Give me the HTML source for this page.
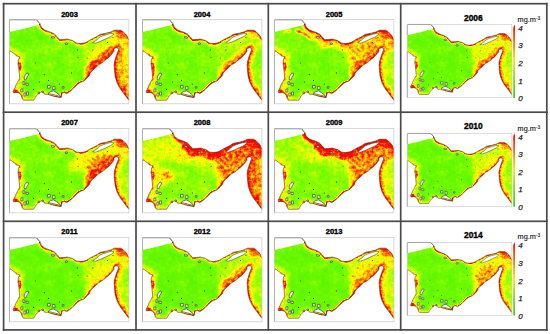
<!DOCTYPE html>
<html><head><meta charset="utf-8"><style>
html,body{margin:0;padding:0;background:#fff;}
body{width:550px;height:334px;position:relative;overflow:hidden;font-family:"Liberation Sans",sans-serif;}
.m{position:absolute;overflow:hidden}
.m .h{mix-blend-mode:lighten}
.t{position:absolute;width:40px;text-align:center;font-weight:bold;color:#000;line-height:1;-webkit-text-stroke:0.35px #000}
.hl{position:absolute;background:#555}
.cb{position:absolute;width:2.3px;background:linear-gradient(to bottom,#ff0000,#ff6600 22%,#ffbb00 40%,#eeee00 50%,#b4e61e 60%,#78dc28 75%,#3cd228);clip-path:polygon(50% 0,100% 5%,100% 100%,0 100%,0 5%)}
.u{position:absolute;font-size:7.3px;color:#222;line-height:1;-webkit-text-stroke:0.15px #222}
.u sup{font-size:4.8px;vertical-align:1.8px}
.l{position:absolute;font-size:8px;font-style:italic;color:#222;line-height:1;-webkit-text-stroke:0.25px #222}
</style></head><body>
<svg width="0" height="0" style="position:absolute">
<defs>
<clipPath id="cw"><path d="M9.8,32.0 L22.5,29.2 L32.0,26.7 L36.0,25.7 L39.6,25.1 L40.5,24.0 L42.0,27.5 L45.0,29.9 L47.5,31.0 L51.1,32.2 L55.0,34.1 L57.6,36.7 L60.2,39.7 L64.0,39.5 L67.9,39.1 L73.0,40.5 L76.9,43.0 L80.7,43.6 L84.6,43.0 L87.0,42.2 L91.0,39.8 L97.0,36.8 L100.6,34.4 L106.6,33.2 L111.3,32.0 L115.0,30.2 L121.0,30.2 L123.3,31.4 L126.3,34.4 L128.1,36.8 L129.7,39.5 L129.7,100.3 L128.9,99.8 L127.2,97.4 L123.6,92.6 L120.0,87.8 L117.4,82.6 L115.6,76.5 L115.0,70.8 L114.6,64.8 L115.0,61.6 L116.6,56.2 L118.2,52.0 L118.9,50.4 L119.1,48.6 L117.2,47.8 L115.5,48.1 L114.4,49.4 L114.6,51.2 L112.8,53.4 L111.0,55.6 L109.2,57.6 L106.9,59.2 L104.2,61.6 L101.5,63.4 L98.9,64.9 L95.3,68.5 L92.6,70.7 L90.8,73.0 L89.9,75.6 L88.1,77.4 L84.5,81.0 L80.5,82.6 L78.0,84.4 L74.5,87.8 L71.7,90.6 L67.3,93.7 L64.7,92.4 L62.7,93.2 L61.6,97.7 L54.8,96.4 L48.2,94.4 L44.9,94.2 L43.6,91.5 L41.6,91.9 L39.6,93.2 L37.6,95.2 L36.4,96.4 L35.6,97.8 L34.2,100.2 L24.0,100.3 L22.7,98.5 L21.7,95.5 L20.2,93.4 L17.6,92.4 L14.1,92.9 L13.6,91.4 L15.6,87.3 L16.6,84.8 L18.1,82.2 L20.2,78.2 L19.7,73.1 L19.2,68.0 L18.5,64.0 L18.8,60.0 L20.2,56.8 L17.0,55.9 L15.0,54.0 L11.9,51.7 L9.8,50.8Z"/></clipPath>
<filter id="bl" filterUnits="userSpaceOnUse" x="0" y="10" width="140" height="100" color-interpolation-filters="sRGB"><feGaussianBlur stdDeviation="1.6"/></filter>
<filter id="bm" filterUnits="userSpaceOnUse" x="0" y="10" width="140" height="100" color-interpolation-filters="sRGB"><feGaussianBlur stdDeviation="1"/></filter>
<filter id="bs" filterUnits="userSpaceOnUse" x="0" y="10" width="140" height="100" color-interpolation-filters="sRGB"><feGaussianBlur stdDeviation="0.6"/></filter>
<filter id="bb" filterUnits="userSpaceOnUse" x="0" y="10" width="140" height="100" color-interpolation-filters="sRGB"><feGaussianBlur stdDeviation="3"/></filter>
<filter id="cm" x="0" y="0" width="100%" height="100%" color-interpolation-filters="sRGB">
<feTurbulence type="fractalNoise" baseFrequency="0.09" numOctaves="2" seed="5" result="nl"/>
<feColorMatrix in="nl" type="matrix" values="1 0 0 0 0  1 0 0 0 0  1 0 0 0 0  0 0 0 0 1" result="gl"/>
<feTurbulence type="fractalNoise" baseFrequency="0.33" numOctaves="2" seed="3" result="nh"/>
<feColorMatrix in="nh" type="matrix" values="1 0 0 0 0  1 0 0 0 0  1 0 0 0 0  0 0 0 0 1" result="gh"/>
<feComposite in="SourceGraphic" in2="gl" operator="arithmetic" k1="0" k2="1" k3="0.24" k4="-0.12" result="s1"/>
<feComposite in="s1" in2="gh" operator="arithmetic" k1="0.9" k2="0.55" k3="0" k4="0" result="s"/>
<feComponentTransfer in="s">
<feFuncR type="table" tableValues="0.33 0.36 0.43 0.57 0.8 1 1 1 1 1 1"/>
<feFuncG type="table" tableValues="0.94 0.96 0.98 1 1 1 0.85 0.6 0.35 0.1 0"/>
<feFuncB type="table" tableValues="0 0 0 0 0 0 0 0 0 0 0"/>
<feFuncA type="table" tableValues="1 1"/>
</feComponentTransfer>
</filter>
<g id="hALL" filter="url(#bl)"><rect x="0" y="0" width="140" height="110" fill="currentColor"/></g><g id="hC" filter="url(#bl)"><ellipse cx="60" cy="62" rx="40" ry="25" fill="currentColor"/></g><g id="hNW" filter="url(#bb)"><ellipse cx="25" cy="40" rx="16" ry="10" fill="currentColor"/></g><g id="hE" filter="url(#bb)"><ellipse cx="95" cy="55" rx="18" ry="14" fill="currentColor"/></g><g id="hNB" filter="url(#bl)"><polyline points="51.1,32.2 55,34.1 57.6,36.7 60.2,39.7 64,39.5 67.9,39.1 73,40.5 76.9,43 80.7,43.6 84.6,43 87,42.2 91,39.8 97,36.8 100.6,34.4 106.6,33.2 111.3,32 115,30.2 121,30.2 123.3,31.4 126.3,34.4 128.1,36.8 129.7,39.5" fill="none" stroke="currentColor" stroke-width="16" stroke-linejoin="round" stroke-linecap="butt"/></g><g id="hNB2" filter="url(#bl)"><polyline points="40.5,24 42,27.5 45,29.9 47.5,31 51.1,32.2 55,34.1" fill="none" stroke="currentColor" stroke-width="7" stroke-linejoin="round" stroke-linecap="butt"/></g><g id="hN" filter="url(#bl)"><polyline points="47.5,31 51.1,32.2 55,34.1 57.6,36.7 60.2,39.7 64,39.5 67.9,39.1 73,40.5 76.9,43 80.7,43.6 84.6,43 87,42.2 91,39.8 97,36.8 100.6,34.4 106.6,33.2 111.3,32 115,30.2 121,30.2 123.3,31.4 126.3,34.4 128.1,36.8 129.7,39.5" fill="none" stroke="currentColor" stroke-width="6" stroke-linejoin="round" stroke-linecap="round"/></g><g id="hNL" filter="url(#bl)"><polyline points="40.5,24 42,27.5 45,29.9 47.5,31" fill="none" stroke="currentColor" stroke-width="6" stroke-linejoin="round" stroke-linecap="round"/></g><g id="hNE" filter="url(#bs)"><polyline points="47.5,31 51.1,32.2 55,34.1 57.6,36.7 60.2,39.7 64,39.5 67.9,39.1 73,40.5 76.9,43 80.7,43.6 84.6,43 87,42.2 91,39.8 97,36.8 100.6,34.4 106.6,33.2 111.3,32 115,30.2 121,30.2 123.3,31.4 126.3,34.4 128.1,36.8 129.7,39.5" fill="none" stroke="currentColor" stroke-width="2.4" stroke-linejoin="round" stroke-linecap="round"/></g><g id="hNEL" filter="url(#bs)"><polyline points="40.5,24 42,27.5 45,29.9 47.5,31" fill="none" stroke="currentColor" stroke-width="2.4" stroke-linejoin="round" stroke-linecap="round"/></g><g id="hNC2" filter="url(#bb)"><path d="M42,28 L60,40 L75,41 L88,44 L86,54 L66,56 L46,52 L30,45 L30,34Z" fill="currentColor"/></g><g id="hEP" filter="url(#bb)"><path d="M86,42 L100,34 L115,30 L121,31 L118,47 L110,58 L100,66 L90,73 L84,62 L82,48Z" fill="currentColor"/></g><g id="hST" filter="url(#bb)"><ellipse cx="106" cy="44" rx="14" ry="8" fill="currentColor"/></g><g id="hQS" filter="url(#bl)"><ellipse cx="103" cy="38.5" rx="13" ry="5" transform="rotate(-22 103 38.5)" fill="currentColor"/></g><g id="hEW" filter="url(#bb)"><ellipse cx="82" cy="53" rx="13" ry="7" transform="rotate(-20 82 53)" fill="currentColor"/></g><g id="hEC" filter="url(#bb)"><ellipse cx="99" cy="56" rx="13" ry="7" transform="rotate(-38 99 56)" fill="currentColor"/></g><g id="hUAE" filter="url(#bl)"><polyline points="114.6,51.2 112.8,53.4 111,55.6 109.2,57.6 106.9,59.2 104.2,61.6 101.5,63.4 98.9,64.9 95.3,68.5 92.6,70.7 90.8,73" fill="none" stroke="currentColor" stroke-width="13" stroke-linejoin="round" stroke-linecap="round"/></g><g id="hUAE2" filter="url(#bl)"><polyline points="112.8,53.4 111,55.6 109.2,57.6 106.9,59.2 104.2,61.6 101.5,63.4 98.9,64.9 95.3,68.5" fill="none" stroke="currentColor" stroke-width="8" stroke-linejoin="round" stroke-linecap="round"/></g><g id="hUAE3" filter="url(#bl)"><polyline points="110.2,50.8 108.4,53.0 106.60000000000001,55.0 104.30000000000001,56.6 101.60000000000001,59.0 98.9,60.8 96.30000000000001,62.300000000000004 92.7,65.9 90.0,68.10000000000001" fill="none" stroke="currentColor" stroke-width="6" stroke-linejoin="round" stroke-linecap="round"/></g><g id="hUE" filter="url(#bs)"><polyline points="117.2,47.8 115.5,48.1 114.4,49.4 114.6,51.2 112.8,53.4 111,55.6 109.2,57.6 106.9,59.2 104.2,61.6 101.5,63.4 98.9,64.9 95.3,68.5 92.6,70.7 90.8,73 89.9,75.6 88.1,77.4 84.5,81 80.5,82.6 78,84.4 74.5,87.8 71.7,90.6 67.3,93.7 64.7,92.4 62.7,93.2 61.6,97.7" fill="none" stroke="currentColor" stroke-width="2.4" stroke-linejoin="round" stroke-linecap="round"/></g><g id="hOMT" filter="url(#bb)"><rect x="112" y="28" width="20" height="24" fill="currentColor"/></g><g id="hOMM" filter="url(#bb)"><rect x="112" y="52" width="20" height="26" fill="currentColor"/></g><g id="hOMB" filter="url(#bb)"><rect x="112" y="78" width="20" height="26" fill="currentColor"/></g><g id="hOMC" filter="url(#bl)"><polyline points="129.7,100.3 128.9,99.8 127.2,97.4 123.6,92.6 120,87.8 117.4,82.6 115.6,76.5 115,70.8 114.6,64.8 115,61.6 116.6,56.2 118.2,52 118.9,50.4 119.1,48.6 117.2,47.8" fill="none" stroke="currentColor" stroke-width="8" stroke-linejoin="round" stroke-linecap="round"/></g><g id="hOE" filter="url(#bs)"><polyline points="129.7,100.3 128.9,99.8 127.2,97.4 123.6,92.6 120,87.8 117.4,82.6 115.6,76.5 115,70.8 114.6,64.8 115,61.6 116.6,56.2 118.2,52 118.9,50.4 119.1,48.6 117.2,47.8" fill="none" stroke="currentColor" stroke-width="2.4" stroke-linejoin="round" stroke-linecap="round"/></g><g id="hTR" filter="url(#bl)"><ellipse cx="123" cy="34" rx="7" ry="4.5" fill="currentColor"/></g><g id="hMT" filter="url(#bs)"><ellipse cx="117" cy="48" rx="3" ry="2" fill="currentColor"/></g><g id="hWB" filter="url(#bb)"><polyline points="24,100.3 22.7,98.5 21.7,95.5 20.2,93.4 17.6,92.4 14.1,92.9 13.6,91.4 15.6,87.3 16.6,84.8 18.1,82.2 20.2,78.2 19.7,73.1 19.2,68 18.5,64 18.8,60 20.2,56.8 17,55.9 15,54 11.9,51.7 9.8,50.8" fill="none" stroke="currentColor" stroke-width="12" stroke-linejoin="round" stroke-linecap="round"/></g><g id="hW" filter="url(#bl)"><polyline points="24,100.3 22.7,98.5 21.7,95.5 20.2,93.4 17.6,92.4 14.1,92.9 13.6,91.4 15.6,87.3 16.6,84.8 18.1,82.2 20.2,78.2 19.7,73.1 19.2,68 18.5,64 18.8,60 20.2,56.8 17,55.9 15,54 11.9,51.7 9.8,50.8" fill="none" stroke="currentColor" stroke-width="10" stroke-linejoin="round" stroke-linecap="round"/></g><g id="hWE" filter="url(#bs)"><polyline points="24,100.3 22.7,98.5 21.7,95.5 20.2,93.4 17.6,92.4 14.1,92.9 13.6,91.4 15.6,87.3 16.6,84.8 18.1,82.2 20.2,78.2 19.7,73.1 19.2,68 18.5,64 18.8,60 20.2,56.8 17,55.9 15,54 11.9,51.7 9.8,50.8" fill="none" stroke="currentColor" stroke-width="2.4" stroke-linejoin="round" stroke-linecap="round"/></g><g id="hSW" filter="url(#bs)"><ellipse cx="15.5" cy="91.8" rx="3.6" ry="2.4" fill="currentColor"/></g><g id="hLW" filter="url(#bs)"><ellipse cx="19.6" cy="66.5" rx="2.3" ry="5" fill="currentColor"/></g><g id="hLW2" filter="url(#bl)"><ellipse cx="13" cy="53" rx="4" ry="3" fill="currentColor"/></g><g id="hS" filter="url(#bs)"><polyline points="49,95.5 55,96.9 61.6,98" fill="none" stroke="currentColor" stroke-width="2.5" stroke-linejoin="round" stroke-linecap="round"/></g><g id="hSB" filter="url(#bl)"><polyline points="67.3,93.7 64.7,92.4 62.7,93.2 61.6,97.7 54.8,96.4 48.2,94.4 44.9,94.2 43.6,91.5 41.6,91.9 39.6,93.2 37.6,95.2 36.4,96.4 35.6,97.8 34.2,100.2 24,100.3" fill="none" stroke="currentColor" stroke-width="6" stroke-linejoin="round" stroke-linecap="round"/></g><g id="hSE" filter="url(#bs)"><polyline points="67.3,93.7 64.7,92.4 62.7,93.2 61.6,97.7 54.8,96.4 48.2,94.4 44.9,94.2 43.6,91.5 41.6,91.9 39.6,93.2 37.6,95.2 36.4,96.4 35.6,97.8 34.2,100.2 24,100.3" fill="none" stroke="currentColor" stroke-width="2.4" stroke-linejoin="round" stroke-linecap="round"/></g><g id="hNS" filter="url(#bm)"><polyline points="32.5,30.8 40,34.2 47,38.8" fill="none" stroke="currentColor" stroke-width="3" stroke-linejoin="round" stroke-linecap="round"/></g><g id="hNS2" filter="url(#bm)"><polyline points="21,31.6 25,30.8" fill="none" stroke="currentColor" stroke-width="2" stroke-linejoin="round" stroke-linecap="round"/></g><g id="hLW3" filter="url(#bs)"><ellipse cx="19.8" cy="70" rx="2.3" ry="8" fill="currentColor"/></g><g id="hLP" filter="url(#bb)"><ellipse cx="33" cy="67" rx="9" ry="6.5" fill="currentColor"/></g>
<g id="outl">
<path d="M10,19.7 L36.9,19.7 L40.5,23.8 L39.6,25.1" fill="none" stroke="#444" stroke-width="0.9"/><path d="M10,19.6 L10,32 M10,50.8 L10,103.8" fill="none" stroke="#777" stroke-width="1"/>
<path d="M39.6,25.1 L40.5,24.0 L42.0,27.5 L45.0,29.9 L47.5,31.0 L51.1,32.2 L55.0,34.1 L57.6,36.7 L60.2,39.7 L64.0,39.5 L67.9,39.1 L73.0,40.5 L76.9,43.0 L80.7,43.6 L84.6,43.0 L87.0,42.2 L91.0,39.8 L97.0,36.8 L100.6,34.4 L106.6,33.2 L111.3,32.0 L115.0,30.2 L121.0,30.2 L123.3,31.4 L126.3,34.4 L128.1,36.8" fill="none" stroke="#222" stroke-width="0.55"/>
<path d="M129.7,100.3 L128.9,99.8 L127.2,97.4 L123.6,92.6 L120.0,87.8 L117.4,82.6 L115.6,76.5 L115.0,70.8 L114.6,64.8 L115.0,61.6 L116.6,56.2 L118.2,52.0 L118.9,50.4 L119.1,48.6 L117.2,47.8 L115.5,48.1 L114.4,49.4 L114.6,51.2 L112.8,53.4 L111.0,55.6 L109.2,57.6 L106.9,59.2 L104.2,61.6 L101.5,63.4 L98.9,64.9 L95.3,68.5 L92.6,70.7 L90.8,73.0 L89.9,75.6 L88.1,77.4 L84.5,81.0 L80.5,82.6 L78.0,84.4 L74.5,87.8 L71.7,90.6 L67.3,93.7 L64.7,92.4 L62.7,93.2 L61.6,97.7 L54.8,96.4 L48.2,94.4 L44.9,94.2 L43.6,91.5 L41.6,91.9 L39.6,93.2 L37.6,95.2 L36.4,96.4 L35.6,97.8 L34.2,100.2 L24.0,100.3 L22.7,98.5 L21.7,95.5 L20.2,93.4 L17.6,92.4 L14.1,92.9 L13.6,91.4 L15.6,87.3 L16.6,84.8 L18.1,82.2 L20.2,78.2 L19.7,73.1 L19.2,68.0 L18.5,64.0 L18.8,60.0 L20.2,56.8 L17.0,55.9 L15.0,54.0 L11.9,51.7 L9.8,50.8" fill="none" stroke="#2a2a2a" stroke-width="0.5"/>
<path d="M93.2,42.6 L97.0,40.2 L100.4,37.0 L104.0,35.6 L108.2,34.3 L112.6,33.2 L114.4,34.0 L111.5,36.5 L106.0,39.0 L100.4,41.6 L96.0,43.2Z" fill="#fff" stroke="#222" stroke-width="0.5"/>
<path d="M27.5,73.0 L29.2,73.8 L28.6,75.5 L27.2,77.5 L26.5,79.8 L25.0,80.0 L24.6,78.0 L25.6,75.5ZM51.8,36.6 L54.8,36.9 L55.2,38.0 L52.2,38.2ZM65.6,43.3 L67.6,42.9 L68.1,44.2 L66.0,44.6ZM23.5,81.6 L25.2,81.8 L25.5,84.2 L23.6,84.6ZM26.5,83.2 L28.8,83.4 L28.8,85.5 L26.6,85.3ZM48.8,93.0 L51.5,91.5 L54.1,90.9 L56.8,92.5 L59.4,94.5 L61.0,96.5 L57.0,95.5 L52.0,94.2 L48.8,93.6ZM48.0,85.5 L50.6,85.4 L50.8,88.0 L48.1,88.2ZM53.2,86.4 L55.3,86.3 L55.6,89.4 L53.3,89.6ZM38.6,92.2 L40.1,92.2 L40.1,93.6 L38.6,93.6ZM42.6,91.0 L44.0,91.0 L44.0,92.6 L42.6,92.6ZM21.4,89.0 L23.3,88.8 L23.4,91.8 L21.5,92.0ZM24.4,93.1 L26.3,93.0 L26.4,96.0 L24.5,96.2ZM27.1,92.0 L28.9,91.9 L29.0,95.0 L27.2,95.1ZM62.8,86.6 L64.4,86.6 L64.4,88.2 L62.8,88.2Z" fill="#fff" stroke="#333" stroke-width="0.65"/>
<circle cx="77.8" cy="49.9" r="0.55" fill="#333"/><circle cx="78.6" cy="57.3" r="0.55" fill="#333"/><circle cx="87.7" cy="58.1" r="0.55" fill="#333"/><circle cx="72" cy="72.9" r="0.55" fill="#333"/><circle cx="44.8" cy="74.6" r="0.55" fill="#333"/><circle cx="35.8" cy="63" r="0.55" fill="#333"/><circle cx="34.1" cy="89.4" r="0.55" fill="#333"/><circle cx="49" cy="80.4" r="0.55" fill="#333"/><circle cx="93.4" cy="49.9" r="0.55" fill="#333"/><circle cx="108" cy="42.5" r="0.55" fill="#333"/><circle cx="113.5" cy="37.5" r="0.55" fill="#333"/><circle cx="60" cy="84" r="0.55" fill="#333"/><circle cx="40" cy="82" r="0.55" fill="#333"/>
<rect x="10.0" y="19.5" width="119.40" height="84.30" fill="none" stroke="#c8c8c8" stroke-width="0.7"/>
</g>
</defs></svg>
<svg style="position:absolute;left:0;top:0" width="550" height="334" viewBox="0 0 550 334" fill="#4a4a4a"><rect x="2.75" y="2.85" width="1.7" height="327.90"/><rect x="135.15" y="2.85" width="1.7" height="327.90"/><rect x="267.45" y="2.85" width="1.7" height="327.90"/><rect x="399.85" y="2.85" width="1.7" height="327.90"/><rect x="545.95" y="2.85" width="1.7" height="327.90"/><rect x="2.75" y="2.85" width="544.90" height="1.7"/><rect x="2.75" y="111.35" width="544.90" height="1.7"/><rect x="2.75" y="220.45" width="544.90" height="1.7"/><rect x="2.75" y="329.05" width="544.90" height="1.7"/></svg>
<svg class="m" style="left:8.45px;top:18.40px;width:122.40px;height:87.30px" viewBox="8.5 18.0 122.40 87.30" preserveAspectRatio="none">
<g clip-path="url(#cw)"><g filter="url(#cm)"><rect x="0" y="0" width="140" height="110" fill="#000"/><use class="h" href="#hALL" style="color:rgb(51,51,51)"/><use class="h" href="#hC" style="color:rgb(61,61,61)"/><use class="h" href="#hN" style="color:rgb(115,115,115)"/><use class="h" href="#hNL" style="color:rgb(115,115,115)"/><use class="h" href="#hNE" style="color:rgb(191,191,191)"/><use class="h" href="#hNEL" style="color:rgb(191,191,191)"/><use class="h" href="#hEP" style="color:rgb(87,87,87)"/><use class="h" href="#hQS" style="color:rgb(107,107,107)"/><use class="h" href="#hEC" style="color:rgb(140,140,140)"/><use class="h" href="#hUAE" style="color:rgb(178,178,178)"/><use class="h" href="#hUAE2" style="color:rgb(230,230,230)"/><use class="h" href="#hUAE3" style="color:rgb(209,209,209)"/><use class="h" href="#hUE" style="color:rgb(235,235,235)"/><use class="h" href="#hOMT" style="color:rgb(140,140,140)"/><use class="h" href="#hOMM" style="color:rgb(153,153,153)"/><use class="h" href="#hOMB" style="color:rgb(184,184,184)"/><use class="h" href="#hOMC" style="color:rgb(199,199,199)"/><use class="h" href="#hOE" style="color:rgb(235,235,235)"/><use class="h" href="#hTR" style="color:rgb(204,204,204)"/><use class="h" href="#hMT" style="color:rgb(224,224,224)"/><use class="h" href="#hW" style="color:rgb(115,115,115)"/><use class="h" href="#hWE" style="color:rgb(158,158,158)"/><use class="h" href="#hSW" style="color:rgb(242,242,242)"/><use class="h" href="#hLW" style="color:rgb(224,224,224)"/><use class="h" href="#hLW2" style="color:rgb(115,115,115)"/><use class="h" href="#hS" style="color:rgb(242,242,242)"/><use class="h" href="#hSB" style="color:rgb(84,84,84)"/><use class="h" href="#hSE" style="color:rgb(140,140,140)"/></g></g>
<use href="#outl"/>
</svg><div class="t" style="left:49.5px;top:10.70px;font-size:7.5px">2003</div><svg class="m" style="left:140.95px;top:18.40px;width:122.40px;height:87.30px" viewBox="8.5 18.0 122.40 87.30" preserveAspectRatio="none">
<g clip-path="url(#cw)"><g filter="url(#cm)"><rect x="0" y="0" width="140" height="110" fill="#000"/><use class="h" href="#hALL" style="color:rgb(51,51,51)"/><use class="h" href="#hC" style="color:rgb(61,61,61)"/><use class="h" href="#hNW" style="color:rgb(64,64,64)"/><use class="h" href="#hN" style="color:rgb(122,122,122)"/><use class="h" href="#hNL" style="color:rgb(122,122,122)"/><use class="h" href="#hNE" style="color:rgb(217,217,217)"/><use class="h" href="#hNEL" style="color:rgb(217,217,217)"/><use class="h" href="#hEP" style="color:rgb(84,84,84)"/><use class="h" href="#hQS" style="color:rgb(115,115,115)"/><use class="h" href="#hUAE" style="color:rgb(140,140,140)"/><use class="h" href="#hUAE2" style="color:rgb(191,191,191)"/><use class="h" href="#hUE" style="color:rgb(235,235,235)"/><use class="h" href="#hOMT" style="color:rgb(92,92,92)"/><use class="h" href="#hOMM" style="color:rgb(76,76,76)"/><use class="h" href="#hOMB" style="color:rgb(92,92,92)"/><use class="h" href="#hOMC" style="color:rgb(184,184,184)"/><use class="h" href="#hOE" style="color:rgb(235,235,235)"/><use class="h" href="#hTR" style="color:rgb(158,158,158)"/><use class="h" href="#hMT" style="color:rgb(224,224,224)"/><use class="h" href="#hW" style="color:rgb(128,128,128)"/><use class="h" href="#hWE" style="color:rgb(178,178,178)"/><use class="h" href="#hSW" style="color:rgb(242,242,242)"/><use class="h" href="#hLW2" style="color:rgb(140,140,140)"/><use class="h" href="#hS" style="color:rgb(242,242,242)"/><use class="h" href="#hSB" style="color:rgb(84,84,84)"/><use class="h" href="#hSE" style="color:rgb(140,140,140)"/><use class="h" href="#hLW3" style="color:rgb(224,224,224)"/></g></g>
<use href="#outl"/>
</svg><div class="t" style="left:182.0px;top:10.70px;font-size:7.5px">2004</div><svg class="m" style="left:272.95px;top:18.40px;width:122.40px;height:87.30px" viewBox="8.5 18.0 122.40 87.30" preserveAspectRatio="none">
<g clip-path="url(#cw)"><g filter="url(#cm)"><rect x="0" y="0" width="140" height="110" fill="#000"/><use class="h" href="#hALL" style="color:rgb(51,51,51)"/><use class="h" href="#hC" style="color:rgb(59,59,59)"/><use class="h" href="#hNW" style="color:rgb(71,71,71)"/><use class="h" href="#hNB" style="color:rgb(140,140,140)"/><use class="h" href="#hN" style="color:rgb(178,178,178)"/><use class="h" href="#hNL" style="color:rgb(178,178,178)"/><use class="h" href="#hNE" style="color:rgb(230,230,230)"/><use class="h" href="#hNEL" style="color:rgb(230,230,230)"/><use class="h" href="#hEP" style="color:rgb(158,158,158)"/><use class="h" href="#hQS" style="color:rgb(140,140,140)"/><use class="h" href="#hUAE" style="color:rgb(173,173,173)"/><use class="h" href="#hUAE2" style="color:rgb(209,209,209)"/><use class="h" href="#hUAE3" style="color:rgb(184,184,184)"/><use class="h" href="#hUE" style="color:rgb(235,235,235)"/><use class="h" href="#hOMT" style="color:rgb(158,158,158)"/><use class="h" href="#hOMM" style="color:rgb(97,97,97)"/><use class="h" href="#hOMB" style="color:rgb(92,92,92)"/><use class="h" href="#hOMC" style="color:rgb(173,173,173)"/><use class="h" href="#hOE" style="color:rgb(230,230,230)"/><use class="h" href="#hTR" style="color:rgb(217,217,217)"/><use class="h" href="#hMT" style="color:rgb(224,224,224)"/><use class="h" href="#hWB" style="color:rgb(92,92,92)"/><use class="h" href="#hW" style="color:rgb(128,128,128)"/><use class="h" href="#hWE" style="color:rgb(178,178,178)"/><use class="h" href="#hSW" style="color:rgb(242,242,242)"/><use class="h" href="#hLW" style="color:rgb(217,217,217)"/><use class="h" href="#hLW2" style="color:rgb(140,140,140)"/><use class="h" href="#hS" style="color:rgb(242,242,242)"/><use class="h" href="#hSB" style="color:rgb(84,84,84)"/><use class="h" href="#hSE" style="color:rgb(140,140,140)"/><use class="h" href="#hNS" style="color:rgb(235,235,235)"/><use class="h" href="#hNS2" style="color:rgb(217,217,217)"/></g></g>
<use href="#outl"/>
</svg><div class="t" style="left:314.1px;top:10.70px;font-size:7.5px">2005</div><svg class="m" style="left:405.59px;top:23.10px;width:107.13px;height:75.91px" viewBox="8.5 18.0 122.40 87.30" preserveAspectRatio="none">
<g clip-path="url(#cw)"><g filter="url(#cm)"><rect x="0" y="0" width="140" height="110" fill="#000"/><use class="h" href="#hALL" style="color:rgb(48,48,48)"/><use class="h" href="#hN" style="color:rgb(107,107,107)"/><use class="h" href="#hNL" style="color:rgb(107,107,107)"/><use class="h" href="#hNE" style="color:rgb(204,204,204)"/><use class="h" href="#hNEL" style="color:rgb(204,204,204)"/><use class="h" href="#hEP" style="color:rgb(115,115,115)"/><use class="h" href="#hQS" style="color:rgb(128,128,128)"/><use class="h" href="#hUAE" style="color:rgb(158,158,158)"/><use class="h" href="#hUAE2" style="color:rgb(199,199,199)"/><use class="h" href="#hUE" style="color:rgb(230,230,230)"/><use class="h" href="#hOMT" style="color:rgb(115,115,115)"/><use class="h" href="#hOMM" style="color:rgb(97,97,97)"/><use class="h" href="#hOMB" style="color:rgb(128,128,128)"/><use class="h" href="#hOMC" style="color:rgb(178,178,178)"/><use class="h" href="#hOE" style="color:rgb(230,230,230)"/><use class="h" href="#hTR" style="color:rgb(204,204,204)"/><use class="h" href="#hMT" style="color:rgb(224,224,224)"/><use class="h" href="#hW" style="color:rgb(107,107,107)"/><use class="h" href="#hWE" style="color:rgb(158,158,158)"/><use class="h" href="#hSW" style="color:rgb(242,242,242)"/><use class="h" href="#hLW" style="color:rgb(217,217,217)"/><use class="h" href="#hLW2" style="color:rgb(115,115,115)"/><use class="h" href="#hS" style="color:rgb(242,242,242)"/><use class="h" href="#hSB" style="color:rgb(76,76,76)"/><use class="h" href="#hSE" style="color:rgb(133,133,133)"/></g></g>
<use href="#outl"/>
</svg><div class="t" style="left:453.3px;top:13.70px;font-size:8.4px">2006</div><div class="cb" style="left:513.2px;top:24.40px;height:73.6px"></div><div class="u" style="left:517.6px;top:15.80px">mg.m<sup>-3</sup></div><div class="l" style="left:518.2px;top:24.70px">4</div><div class="l" style="left:518.2px;top:42.30px">3</div><div class="l" style="left:518.2px;top:59.90px">2</div><div class="l" style="left:518.2px;top:77.50px">1</div><div class="l" style="left:518.2px;top:95.10px">0</div><svg class="m" style="left:8.45px;top:127.20px;width:122.40px;height:87.30px" viewBox="8.5 18.0 122.40 87.30" preserveAspectRatio="none">
<g clip-path="url(#cw)"><g filter="url(#cm)"><rect x="0" y="0" width="140" height="110" fill="#000"/><use class="h" href="#hALL" style="color:rgb(51,51,51)"/><use class="h" href="#hC" style="color:rgb(61,61,61)"/><use class="h" href="#hNW" style="color:rgb(66,66,66)"/><use class="h" href="#hN" style="color:rgb(122,122,122)"/><use class="h" href="#hNL" style="color:rgb(122,122,122)"/><use class="h" href="#hNE" style="color:rgb(199,199,199)"/><use class="h" href="#hNEL" style="color:rgb(199,199,199)"/><use class="h" href="#hEP" style="color:rgb(115,115,115)"/><use class="h" href="#hQS" style="color:rgb(115,115,115)"/><use class="h" href="#hEW" style="color:rgb(133,133,133)"/><use class="h" href="#hEC" style="color:rgb(204,204,204)"/><use class="h" href="#hUAE" style="color:rgb(184,184,184)"/><use class="h" href="#hUAE2" style="color:rgb(224,224,224)"/><use class="h" href="#hUAE3" style="color:rgb(217,217,217)"/><use class="h" href="#hUE" style="color:rgb(235,235,235)"/><use class="h" href="#hOMT" style="color:rgb(128,128,128)"/><use class="h" href="#hOMM" style="color:rgb(92,92,92)"/><use class="h" href="#hOMB" style="color:rgb(102,102,102)"/><use class="h" href="#hOMC" style="color:rgb(168,168,168)"/><use class="h" href="#hOE" style="color:rgb(224,224,224)"/><use class="h" href="#hTR" style="color:rgb(217,217,217)"/><use class="h" href="#hMT" style="color:rgb(224,224,224)"/><use class="h" href="#hW" style="color:rgb(115,115,115)"/><use class="h" href="#hWE" style="color:rgb(166,166,166)"/><use class="h" href="#hSW" style="color:rgb(242,242,242)"/><use class="h" href="#hLW" style="color:rgb(217,217,217)"/><use class="h" href="#hLW2" style="color:rgb(128,128,128)"/><use class="h" href="#hS" style="color:rgb(242,242,242)"/><use class="h" href="#hSB" style="color:rgb(84,84,84)"/><use class="h" href="#hSE" style="color:rgb(140,140,140)"/></g></g>
<use href="#outl"/>
</svg><div class="t" style="left:49.5px;top:119.30px;font-size:7.5px">2007</div><svg class="m" style="left:140.95px;top:127.20px;width:122.40px;height:87.30px" viewBox="8.5 18.0 122.40 87.30" preserveAspectRatio="none">
<g clip-path="url(#cw)"><g filter="url(#cm)"><rect x="0" y="0" width="140" height="110" fill="#000"/><use class="h" href="#hALL" style="color:rgb(64,64,64)"/><use class="h" href="#hC" style="color:rgb(76,76,76)"/><use class="h" href="#hNW" style="color:rgb(117,117,117)"/><use class="h" href="#hNB" style="color:rgb(230,230,230)"/><use class="h" href="#hNB2" style="color:rgb(140,140,140)"/><use class="h" href="#hN" style="color:rgb(242,242,242)"/><use class="h" href="#hNL" style="color:rgb(153,153,153)"/><use class="h" href="#hNE" style="color:rgb(247,247,247)"/><use class="h" href="#hNEL" style="color:rgb(191,191,191)"/><use class="h" href="#hNC2" style="color:rgb(128,128,128)"/><use class="h" href="#hEP" style="color:rgb(191,191,191)"/><use class="h" href="#hQS" style="color:rgb(204,204,204)"/><use class="h" href="#hEC" style="color:rgb(178,178,178)"/><use class="h" href="#hUAE" style="color:rgb(148,148,148)"/><use class="h" href="#hUAE2" style="color:rgb(173,173,173)"/><use class="h" href="#hUE" style="color:rgb(230,230,230)"/><use class="h" href="#hOMT" style="color:rgb(209,209,209)"/><use class="h" href="#hOMM" style="color:rgb(191,191,191)"/><use class="h" href="#hOMB" style="color:rgb(199,199,199)"/><use class="h" href="#hOMC" style="color:rgb(217,217,217)"/><use class="h" href="#hOE" style="color:rgb(242,242,242)"/><use class="h" href="#hTR" style="color:rgb(235,235,235)"/><use class="h" href="#hMT" style="color:rgb(235,235,235)"/><use class="h" href="#hWB" style="color:rgb(115,115,115)"/><use class="h" href="#hW" style="color:rgb(128,128,128)"/><use class="h" href="#hWE" style="color:rgb(178,178,178)"/><use class="h" href="#hSW" style="color:rgb(242,242,242)"/><use class="h" href="#hLW" style="color:rgb(217,217,217)"/><use class="h" href="#hLW2" style="color:rgb(153,153,153)"/><use class="h" href="#hS" style="color:rgb(242,242,242)"/><use class="h" href="#hSB" style="color:rgb(89,89,89)"/><use class="h" href="#hSE" style="color:rgb(140,140,140)"/><use class="h" href="#hLP" style="color:rgb(184,184,184)"/></g></g>
<use href="#outl"/>
</svg><div class="t" style="left:182.0px;top:119.30px;font-size:7.5px">2008</div><svg class="m" style="left:272.95px;top:127.20px;width:122.40px;height:87.30px" viewBox="8.5 18.0 122.40 87.30" preserveAspectRatio="none">
<g clip-path="url(#cw)"><g filter="url(#cm)"><rect x="0" y="0" width="140" height="110" fill="#000"/><use class="h" href="#hALL" style="color:rgb(61,61,61)"/><use class="h" href="#hC" style="color:rgb(71,71,71)"/><use class="h" href="#hNW" style="color:rgb(87,87,87)"/><use class="h" href="#hNB" style="color:rgb(230,230,230)"/><use class="h" href="#hNB2" style="color:rgb(199,199,199)"/><use class="h" href="#hN" style="color:rgb(242,242,242)"/><use class="h" href="#hNL" style="color:rgb(242,242,242)"/><use class="h" href="#hNE" style="color:rgb(247,247,247)"/><use class="h" href="#hNEL" style="color:rgb(247,247,247)"/><use class="h" href="#hNC2" style="color:rgb(107,107,107)"/><use class="h" href="#hEP" style="color:rgb(184,184,184)"/><use class="h" href="#hQS" style="color:rgb(217,217,217)"/><use class="h" href="#hEC" style="color:rgb(173,173,173)"/><use class="h" href="#hUAE" style="color:rgb(158,158,158)"/><use class="h" href="#hUAE2" style="color:rgb(191,191,191)"/><use class="h" href="#hUE" style="color:rgb(230,230,230)"/><use class="h" href="#hOMT" style="color:rgb(184,184,184)"/><use class="h" href="#hOMM" style="color:rgb(107,107,107)"/><use class="h" href="#hOMB" style="color:rgb(107,107,107)"/><use class="h" href="#hOMC" style="color:rgb(184,184,184)"/><use class="h" href="#hOE" style="color:rgb(230,230,230)"/><use class="h" href="#hTR" style="color:rgb(235,235,235)"/><use class="h" href="#hMT" style="color:rgb(235,235,235)"/><use class="h" href="#hWB" style="color:rgb(102,102,102)"/><use class="h" href="#hW" style="color:rgb(115,115,115)"/><use class="h" href="#hWE" style="color:rgb(166,166,166)"/><use class="h" href="#hSW" style="color:rgb(242,242,242)"/><use class="h" href="#hLW" style="color:rgb(217,217,217)"/><use class="h" href="#hLW2" style="color:rgb(140,140,140)"/><use class="h" href="#hS" style="color:rgb(242,242,242)"/><use class="h" href="#hSB" style="color:rgb(89,89,89)"/><use class="h" href="#hSE" style="color:rgb(140,140,140)"/></g></g>
<use href="#outl"/>
</svg><div class="t" style="left:314.1px;top:119.30px;font-size:7.5px">2009</div><svg class="m" style="left:405.59px;top:131.90px;width:107.13px;height:75.91px" viewBox="8.5 18.0 122.40 87.30" preserveAspectRatio="none">
<g clip-path="url(#cw)"><g filter="url(#cm)"><rect x="0" y="0" width="140" height="110" fill="#000"/><use class="h" href="#hALL" style="color:rgb(48,48,48)"/><use class="h" href="#hN" style="color:rgb(107,107,107)"/><use class="h" href="#hNL" style="color:rgb(107,107,107)"/><use class="h" href="#hNE" style="color:rgb(199,199,199)"/><use class="h" href="#hNEL" style="color:rgb(199,199,199)"/><use class="h" href="#hEP" style="color:rgb(97,97,97)"/><use class="h" href="#hQS" style="color:rgb(107,107,107)"/><use class="h" href="#hEC" style="color:rgb(115,115,115)"/><use class="h" href="#hUAE" style="color:rgb(128,128,128)"/><use class="h" href="#hUAE2" style="color:rgb(158,158,158)"/><use class="h" href="#hUE" style="color:rgb(224,224,224)"/><use class="h" href="#hOMT" style="color:rgb(107,107,107)"/><use class="h" href="#hOMM" style="color:rgb(87,87,87)"/><use class="h" href="#hOMB" style="color:rgb(92,92,92)"/><use class="h" href="#hOMC" style="color:rgb(166,166,166)"/><use class="h" href="#hOE" style="color:rgb(224,224,224)"/><use class="h" href="#hTR" style="color:rgb(184,184,184)"/><use class="h" href="#hMT" style="color:rgb(224,224,224)"/><use class="h" href="#hW" style="color:rgb(107,107,107)"/><use class="h" href="#hWE" style="color:rgb(158,158,158)"/><use class="h" href="#hSW" style="color:rgb(242,242,242)"/><use class="h" href="#hLW" style="color:rgb(217,217,217)"/><use class="h" href="#hLW2" style="color:rgb(115,115,115)"/><use class="h" href="#hS" style="color:rgb(242,242,242)"/><use class="h" href="#hSB" style="color:rgb(76,76,76)"/><use class="h" href="#hSE" style="color:rgb(133,133,133)"/></g></g>
<use href="#outl"/>
</svg><div class="t" style="left:453.3px;top:122.30px;font-size:8.4px">2010</div><div class="cb" style="left:513.2px;top:133.20px;height:73.6px"></div><div class="u" style="left:517.6px;top:124.60px">mg.m<sup>-3</sup></div><div class="l" style="left:518.2px;top:133.50px">4</div><div class="l" style="left:518.2px;top:151.10px">3</div><div class="l" style="left:518.2px;top:168.70px">2</div><div class="l" style="left:518.2px;top:186.30px">1</div><div class="l" style="left:518.2px;top:203.90px">0</div><svg class="m" style="left:8.45px;top:236.00px;width:122.40px;height:87.30px" viewBox="8.5 18.0 122.40 87.30" preserveAspectRatio="none">
<g clip-path="url(#cw)"><g filter="url(#cm)"><rect x="0" y="0" width="140" height="110" fill="#000"/><use class="h" href="#hALL" style="color:rgb(46,46,46)"/><use class="h" href="#hN" style="color:rgb(102,102,102)"/><use class="h" href="#hNL" style="color:rgb(102,102,102)"/><use class="h" href="#hNE" style="color:rgb(191,191,191)"/><use class="h" href="#hNEL" style="color:rgb(191,191,191)"/><use class="h" href="#hEP" style="color:rgb(92,92,92)"/><use class="h" href="#hQS" style="color:rgb(107,107,107)"/><use class="h" href="#hEC" style="color:rgb(128,128,128)"/><use class="h" href="#hUAE" style="color:rgb(115,115,115)"/><use class="h" href="#hUAE2" style="color:rgb(148,148,148)"/><use class="h" href="#hUE" style="color:rgb(209,209,209)"/><use class="h" href="#hOMT" style="color:rgb(122,122,122)"/><use class="h" href="#hOMM" style="color:rgb(92,92,92)"/><use class="h" href="#hOMB" style="color:rgb(102,102,102)"/><use class="h" href="#hOMC" style="color:rgb(173,173,173)"/><use class="h" href="#hOE" style="color:rgb(230,230,230)"/><use class="h" href="#hTR" style="color:rgb(209,209,209)"/><use class="h" href="#hMT" style="color:rgb(224,224,224)"/><use class="h" href="#hW" style="color:rgb(107,107,107)"/><use class="h" href="#hWE" style="color:rgb(158,158,158)"/><use class="h" href="#hSW" style="color:rgb(242,242,242)"/><use class="h" href="#hLW" style="color:rgb(217,217,217)"/><use class="h" href="#hLW2" style="color:rgb(115,115,115)"/><use class="h" href="#hS" style="color:rgb(242,242,242)"/><use class="h" href="#hSB" style="color:rgb(76,76,76)"/><use class="h" href="#hSE" style="color:rgb(133,133,133)"/></g></g>
<use href="#outl"/>
</svg><div class="t" style="left:49.5px;top:228.20px;font-size:7.5px">2011</div><svg class="m" style="left:140.95px;top:236.00px;width:122.40px;height:87.30px" viewBox="8.5 18.0 122.40 87.30" preserveAspectRatio="none">
<g clip-path="url(#cw)"><g filter="url(#cm)"><rect x="0" y="0" width="140" height="110" fill="#000"/><use class="h" href="#hALL" style="color:rgb(46,46,46)"/><use class="h" href="#hN" style="color:rgb(97,97,97)"/><use class="h" href="#hNL" style="color:rgb(97,97,97)"/><use class="h" href="#hNE" style="color:rgb(178,178,178)"/><use class="h" href="#hNEL" style="color:rgb(178,178,178)"/><use class="h" href="#hEP" style="color:rgb(76,76,76)"/><use class="h" href="#hQS" style="color:rgb(97,97,97)"/><use class="h" href="#hEC" style="color:rgb(107,107,107)"/><use class="h" href="#hUAE" style="color:rgb(115,115,115)"/><use class="h" href="#hUAE2" style="color:rgb(217,217,217)"/><use class="h" href="#hUAE3" style="color:rgb(178,178,178)"/><use class="h" href="#hUE" style="color:rgb(224,224,224)"/><use class="h" href="#hOMT" style="color:rgb(107,107,107)"/><use class="h" href="#hOMM" style="color:rgb(87,87,87)"/><use class="h" href="#hOMB" style="color:rgb(89,89,89)"/><use class="h" href="#hOMC" style="color:rgb(158,158,158)"/><use class="h" href="#hOE" style="color:rgb(224,224,224)"/><use class="h" href="#hTR" style="color:rgb(204,204,204)"/><use class="h" href="#hMT" style="color:rgb(217,217,217)"/><use class="h" href="#hW" style="color:rgb(115,115,115)"/><use class="h" href="#hWE" style="color:rgb(158,158,158)"/><use class="h" href="#hSW" style="color:rgb(242,242,242)"/><use class="h" href="#hLW" style="color:rgb(217,217,217)"/><use class="h" href="#hLW2" style="color:rgb(115,115,115)"/><use class="h" href="#hS" style="color:rgb(242,242,242)"/><use class="h" href="#hSB" style="color:rgb(76,76,76)"/><use class="h" href="#hSE" style="color:rgb(133,133,133)"/></g></g>
<use href="#outl"/>
</svg><div class="t" style="left:182.0px;top:228.20px;font-size:7.5px">2012</div><svg class="m" style="left:272.95px;top:236.00px;width:122.40px;height:87.30px" viewBox="8.5 18.0 122.40 87.30" preserveAspectRatio="none">
<g clip-path="url(#cw)"><g filter="url(#cm)"><rect x="0" y="0" width="140" height="110" fill="#000"/><use class="h" href="#hALL" style="color:rgb(46,46,46)"/><use class="h" href="#hN" style="color:rgb(107,107,107)"/><use class="h" href="#hNL" style="color:rgb(107,107,107)"/><use class="h" href="#hNE" style="color:rgb(199,199,199)"/><use class="h" href="#hNEL" style="color:rgb(199,199,199)"/><use class="h" href="#hEP" style="color:rgb(107,107,107)"/><use class="h" href="#hQS" style="color:rgb(122,122,122)"/><use class="h" href="#hEC" style="color:rgb(153,153,153)"/><use class="h" href="#hUAE" style="color:rgb(140,140,140)"/><use class="h" href="#hUAE2" style="color:rgb(191,191,191)"/><use class="h" href="#hUAE3" style="color:rgb(178,178,178)"/><use class="h" href="#hUE" style="color:rgb(230,230,230)"/><use class="h" href="#hOMT" style="color:rgb(128,128,128)"/><use class="h" href="#hOMM" style="color:rgb(102,102,102)"/><use class="h" href="#hOMB" style="color:rgb(112,112,112)"/><use class="h" href="#hOMC" style="color:rgb(184,184,184)"/><use class="h" href="#hOE" style="color:rgb(235,235,235)"/><use class="h" href="#hTR" style="color:rgb(209,209,209)"/><use class="h" href="#hMT" style="color:rgb(224,224,224)"/><use class="h" href="#hW" style="color:rgb(107,107,107)"/><use class="h" href="#hWE" style="color:rgb(158,158,158)"/><use class="h" href="#hSW" style="color:rgb(242,242,242)"/><use class="h" href="#hLW" style="color:rgb(217,217,217)"/><use class="h" href="#hLW2" style="color:rgb(115,115,115)"/><use class="h" href="#hS" style="color:rgb(242,242,242)"/><use class="h" href="#hSB" style="color:rgb(76,76,76)"/><use class="h" href="#hSE" style="color:rgb(133,133,133)"/></g></g>
<use href="#outl"/>
</svg><div class="t" style="left:314.1px;top:228.20px;font-size:7.5px">2013</div><svg class="m" style="left:405.59px;top:240.70px;width:107.13px;height:75.91px" viewBox="8.5 18.0 122.40 87.30" preserveAspectRatio="none">
<g clip-path="url(#cw)"><g filter="url(#cm)"><rect x="0" y="0" width="140" height="110" fill="#000"/><use class="h" href="#hALL" style="color:rgb(48,48,48)"/><use class="h" href="#hN" style="color:rgb(107,107,107)"/><use class="h" href="#hNL" style="color:rgb(107,107,107)"/><use class="h" href="#hNE" style="color:rgb(199,199,199)"/><use class="h" href="#hNEL" style="color:rgb(199,199,199)"/><use class="h" href="#hEP" style="color:rgb(115,115,115)"/><use class="h" href="#hQS" style="color:rgb(128,128,128)"/><use class="h" href="#hEC" style="color:rgb(184,184,184)"/><use class="h" href="#hUAE" style="color:rgb(128,128,128)"/><use class="h" href="#hUAE2" style="color:rgb(173,173,173)"/><use class="h" href="#hUE" style="color:rgb(224,224,224)"/><use class="h" href="#hOMT" style="color:rgb(128,128,128)"/><use class="h" href="#hOMM" style="color:rgb(89,89,89)"/><use class="h" href="#hOMB" style="color:rgb(97,97,97)"/><use class="h" href="#hOMC" style="color:rgb(168,168,168)"/><use class="h" href="#hOE" style="color:rgb(230,230,230)"/><use class="h" href="#hTR" style="color:rgb(209,209,209)"/><use class="h" href="#hMT" style="color:rgb(224,224,224)"/><use class="h" href="#hW" style="color:rgb(107,107,107)"/><use class="h" href="#hWE" style="color:rgb(158,158,158)"/><use class="h" href="#hSW" style="color:rgb(242,242,242)"/><use class="h" href="#hLW" style="color:rgb(217,217,217)"/><use class="h" href="#hLW2" style="color:rgb(115,115,115)"/><use class="h" href="#hS" style="color:rgb(242,242,242)"/><use class="h" href="#hSB" style="color:rgb(76,76,76)"/><use class="h" href="#hSE" style="color:rgb(133,133,133)"/></g></g>
<use href="#outl"/>
</svg><div class="t" style="left:453.3px;top:231.20px;font-size:8.4px">2014</div><div class="cb" style="left:513.2px;top:242.00px;height:73.6px"></div><div class="u" style="left:517.6px;top:233.40px">mg.m<sup>-3</sup></div><div class="l" style="left:518.2px;top:242.30px">4</div><div class="l" style="left:518.2px;top:259.90px">3</div><div class="l" style="left:518.2px;top:277.50px">2</div><div class="l" style="left:518.2px;top:295.10px">1</div><div class="l" style="left:518.2px;top:312.70px">0</div>
</body></html>
